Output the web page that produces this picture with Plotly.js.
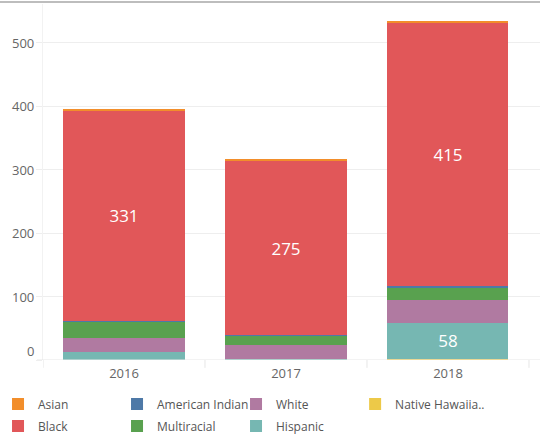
<!DOCTYPE html>
<html>
<head>
<meta charset="utf-8">
<script src="https://cdn.plot.ly/plotly-3.0.1.min.js"></script>
<style>html,body{margin:0;padding:0;background:#fff;}#chart{width:540px;height:435px;}</style>
</head>
<body>
<div id="chart"></div>
<script>
const years = ['2016', '2017', '2018'];
const asian = [3, 3, 4];
const black = [331, 275, 415];
const americanIndian = [1, 1, 2];
const multiracial = [26, 14, 19];
const white = [23, 22, 36];
const hispanic = [12, 2, 58];
const nativeHawaiian = [0, 0, 1];
const yTicks = [0, 100, 200, 300, 400, 500];

const FONT = 'Open Sans, Noto Sans, sans-serif';
const labelIf = (arr, min) => arr.map(v => v >= min ? String(v) : '');

// stacking bottom -> top; legend rows: 'legend' = row 1, 'legend3' = row 2, 'legend2' = 4th column
const series = [
  {name: 'Native Hawaiia..', y: nativeHawaiian, color: '#edc948', rank: 1, legend: 'legend2', text: null},
  {name: 'Hispanic', y: hispanic, color: '#76b7b2', rank: 3, legend: 'legend3', text: labelIf(hispanic, 40)},
  {name: 'White', y: white, color: '#b07aa1', rank: 3, legend: 'legend', text: null},
  {name: 'Multiracial', y: multiracial, color: '#59a14f', rank: 2, legend: 'legend3', text: null},
  {name: 'American Indian', y: americanIndian, color: '#4e79a7', rank: 2, legend: 'legend', text: null},
  {name: 'Black', y: black, color: '#e15759', rank: 1, legend: 'legend3', text: labelIf(black, 40)},
  {name: 'Asian', y: asian, color: '#f28e2b', rank: 1, legend: 'legend', text: null}
];

const traces = series.map(s => ({
  type: 'bar',
  x: years,
  y: s.y,
  name: s.name,
  legend: s.legend,
  legendrank: s.rank,
  marker: {color: s.color, line: {width: 0}},
  width: 0.747,
  text: s.text || undefined,
  textposition: s.text ? 'inside' : 'none',
  insidetextanchor: 'middle',
  textangle: 0,
  textfont: {color: '#ffffff', size: 17, family: FONT},
  hoverinfo: 'x+y+name'
}));

const annotations = yTicks.map(v => ({
  xref: 'paper', yref: 'y', x: 0, y: v,
  xanchor: 'right', yanchor: 'middle',
  xshift: -7, yshift: v === 0 ? 9 : 0,
  text: String(v), showarrow: false,
  font: {size: 13, color: '#666666', family: FONT}
}));

const shapes = [
  {type: 'line', xref: 'paper', yref: 'paper', x0: -0.1, x1: 1.05, y0: 1.0056, y1: 1.0056,
   line: {color: '#bdbdbd', width: 2}},
  {type: 'line', xref: 'paper', yref: 'y', x0: -0.012, x1: 1, y0: 0, y1: 0,
   line: {color: '#e6e6e6', width: 1}}
];
for (let i = 0; i <= years.length; i++) {
  shapes.push({type: 'line', xref: 'x', yref: 'paper', x0: i - 0.5, x1: i - 0.5, y0: 0, y1: -0.022,
    line: {color: '#e6e6e6', width: 1}});
}

const legendFont = {size: 12, color: '#555555', family: FONT};
const rowLegend = (x, y, ew) => {
  const o = {orientation: 'h', x: x, xanchor: 'left', y: y, yanchor: 'top',
    traceorder: 'normal', font: legendFont, itemclick: false, itemdoubleclick: false};
  if (ew) { o.entrywidth = ew; o.entrywidthmode = 'pixels'; }
  return o;
};

const layout = {
  width: 540, height: 435,
  margin: {l: 43, r: 0, t: 4, b: 75, autoexpand: false},
  paper_bgcolor: '#ffffff', plot_bgcolor: '#ffffff',
  barmode: 'stack',
  font: {family: FONT, color: '#666666'},
  xaxis: {
    type: 'category',
    range: [-0.5, 2.568],
    showgrid: false, zeroline: false, showline: false,
    ticks: '', tickfont: {size: 13, color: '#666666', family: FONT},
    ticklabelstandoff: 4,
    automargin: false
  },
  yaxis: {
    range: [0, 561.5],
    tickvals: yTicks,
    showticklabels: false,
    showgrid: true, gridcolor: '#eeeeee', gridwidth: 1,
    zeroline: false,
    showline: true, linecolor: '#f2f2f2', linewidth: 1,
    ticks: 'outside', ticklen: 6, tickcolor: '#eeeeee',
    automargin: false
  },
  showlegend: true,
  legend: rowLegend(-0.0905, -0.083, 74),
  legend3: rowLegend(-0.0905, -0.1447, 74),
  legend2: rowLegend(0.628, -0.083, 0),
  annotations: annotations,
  shapes: shapes,
  hovermode: 'closest'
};

Plotly.newPlot('chart', traces, layout, {displayModeBar: false, responsive: false});
</script>
</body>
</html>
